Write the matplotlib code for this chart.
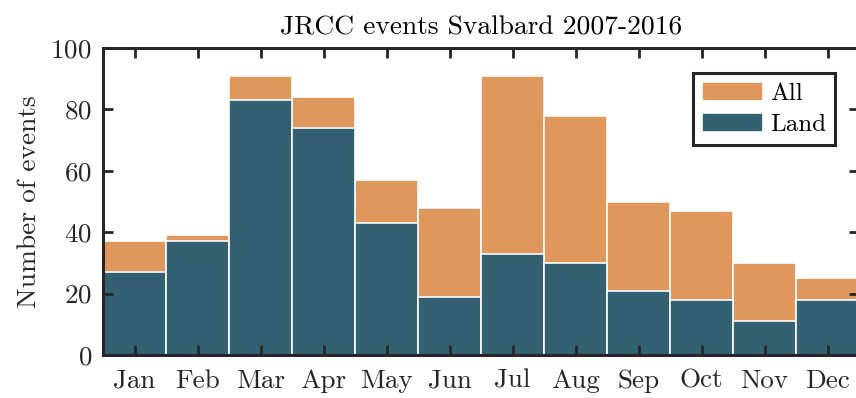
import matplotlib
matplotlib.use("Agg")
import matplotlib.pyplot as plt
import numpy as np

months = ["Jan", "Feb", "Mar", "Apr", "May", "Jun",
          "Jul", "Aug", "Sep", "Oct", "Nov", "Dec"]
all_events = [37, 39, 91, 84, 57, 48, 91, 78, 50, 47, 30, 25]
land_events = [27, 37, 83, 74, 43, 19, 33, 30, 21, 18, 11, 18]

plt.rcParams["font.family"] = "serif"
plt.rcParams["font.serif"] = ["cmr10"]
plt.rcParams["axes.formatter.use_mathtext"] = True

orange = "#e0975c"
teal = "#336172"
dark = "#262626"

fig = plt.figure(figsize=(8.56, 3.98), dpi=100)
ax = fig.add_axes([103 / 856, 1 - 355 / 398, 756 / 856, 307 / 398])

x = np.arange(1, len(months) + 1)
ax.bar(x, all_events, width=1.0, color=orange, edgecolor="white",
       linewidth=1.2, label="All")
ax.bar(x, land_events, width=1.0, color=teal, edgecolor="white",
       linewidth=1.2, label="Land")

ax.set_xlim(0.5, 12.5)
ax.set_ylim(0, 100)
ax.set_xticks(x)
ax.set_xticklabels(months)
ax.set_yticks(range(0, 101, 20))
ax.tick_params(direction="in", length=7, width=2, color=dark,
               top=True, right=True, labelsize=19.5, labelcolor=dark)
ax.tick_params(axis="y", pad=8)
ax.tick_params(axis="x", pad=10)
for s in ax.spines.values():
    s.set_linewidth(2.2)
    s.set_color(dark)

ax.set_ylabel("Number of events", fontsize=19.8, color=dark, labelpad=7)
ax.set_title("JRCC events Svalbard 2007-2016", fontsize=19.8, color="black", pad=10)

leg = ax.legend(loc="upper right", bbox_to_anchor=(0.985, 0.958), fontsize=18,
                fancybox=False, framealpha=1, edgecolor=dark,
                handlelength=2.45, handleheight=0.8, borderpad=0.35,
                labelspacing=0.3, handletextpad=0.3)
leg.get_frame().set_linewidth(2.2)

fig.savefig("out.png", dpi=100)
